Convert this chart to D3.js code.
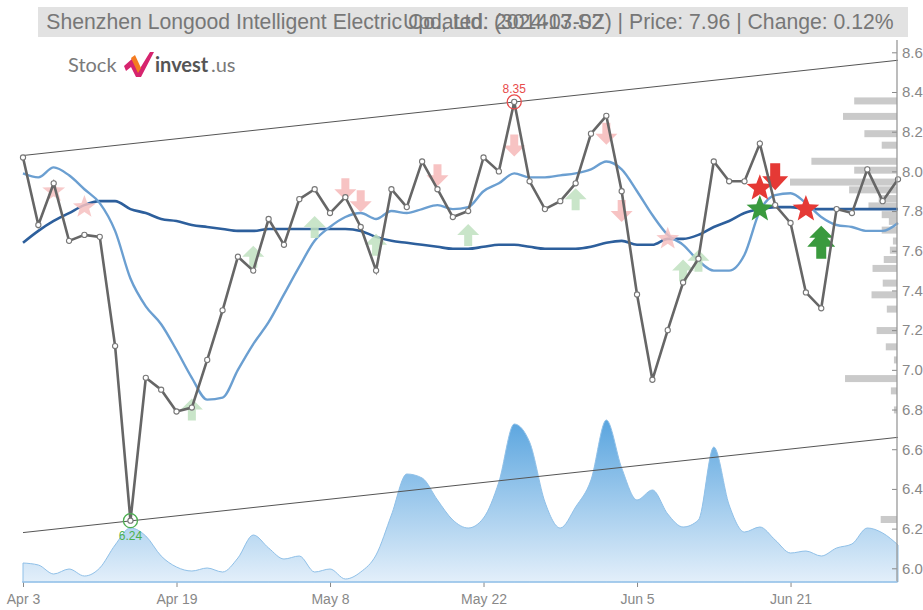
<!DOCTYPE html>
<html>
<head>
<meta charset="utf-8">
<script src="https://cdn.jsdelivr.net/npm/d3@7"></script>
<style>
body { margin: 0; background: #fff; }
svg { display: block; font-family: "Liberation Sans", Arial, sans-serif; }
</style>
</head>
<body>
<div id="chart"></div>
<script>
// daily closes, one per trading day
var prices = [8.07,7.73,7.94,7.65,7.68,7.67,7.12,6.24,6.96,6.90,6.79,6.81,7.05,7.30,7.57,7.50,7.76,7.63,7.86,7.91,
              7.79,7.87,7.72,7.50,7.91,7.82,8.05,7.91,7.77,7.80,8.07,8.00,8.35,7.95,7.81,7.85,7.94,8.19,8.28,7.90,
              7.38,6.95,7.20,7.44,7.56,8.05,7.95,7.95,8.14,7.83,7.74,7.39,7.31,7.81,7.79,8.01,7.85,7.96];
var maShort = [7.99,7.97,8.02,7.98,7.91,7.84,7.70,7.46,7.32,7.23,7.10,6.96,6.85,6.86,7.00,7.13,7.24,7.38,7.52,7.65,
               7.72,7.77,7.79,7.76,7.80,7.79,7.81,7.83,7.81,7.82,7.90,7.94,7.99,7.97,7.97,7.98,7.99,8.01,8.05,8.01,
               7.90,7.78,7.68,7.63,7.55,7.50,7.50,7.58,7.80,7.88,7.89,7.84,7.77,7.73,7.72,7.70,7.70,7.74];
var maLong = [7.64,7.70,7.75,7.79,7.83,7.85,7.85,7.81,7.79,7.76,7.75,7.73,7.72,7.71,7.70,7.70,7.71,7.71,7.71,7.71,
              7.71,7.71,7.70,7.67,7.65,7.64,7.63,7.62,7.61,7.61,7.62,7.63,7.63,7.62,7.61,7.61,7.61,7.62,7.64,7.65,
              7.63,7.63,7.66,7.66,7.68,7.72,7.75,7.79,7.81,7.82,7.82,7.81,7.81,7.81,7.81,7.81,7.81,7.81];
var volumes = [19,17,8,13,6,14,37,54,46,26,15,11,14,10,24,47,34,23,26,10,
               13,3,10,27,67,108,104,82,62,54,64,100,158,140,80,54,75,102,162,114,
               82,92,68,55,62,135,77,50,55,42,29,31,26,34,38,54,49,37];
var dateLabels = ["Apr 3","Apr 19","May 8","May 22","Jun 5","Jun 21"];
var dateIdx = [0,10,20,30,40,50];
var priceTicks = [6.0,6.2,6.4,6.6,6.8,7.0,7.2,7.4,7.6,7.8,8.0,8.2,8.4,8.6];

// trend channel, value at first and last index
var channelUpper = [8.08, 8.56];
var channelLower = [6.18, 6.66];

// volume profile by price level
var profilePrice = [8.355,8.277,8.190,8.132,8.051,8.006,7.946,7.907,7.863,7.826,7.782,7.748,7.704,7.649,
                    7.603,7.556,7.511,7.437,7.378,7.306,7.198,7.116,7.050,6.956,6.894,6.798,6.246];
var profileVol = [42,53,32,15,84,42,105,47,18,28,15,8,15,4,7,13,24,14,25,10,20,11,3,51,6,3,16];

// signals: index, price level, kind, strong
var sigIdx   = [2,4,11,15,19,21,22,23,27,29,32,36,38,39,42,43,44,48,49,48,51,52];
var sigPrice = [7.90,7.82,6.80,7.57,7.72,7.91,7.85,7.63,7.98,7.68,8.13,7.86,8.19,7.80,7.66,7.50,7.55,7.915,7.975,7.81,7.81,7.64];
var sigKind  = ["starR","starR","up","up","up","down","down","up","down","up","down","up","down","down","starR","up","up",
                "starR","down","starG","starR","up"];
var sigStrong = [0,0,0,0,0,0,0,0,0,0,0,0,0,0,0,0,0,1,1,1,1,1];

var W = 923, H = 610;
var svg = d3.select("#chart").append("svg").attr("width", W).attr("height", H);

var x = d3.scaleLinear().domain([0, prices.length - 1]).range([23, 898]);
var y = d3.scaleLinear().domain([5.931, 8.662]).range([582, 40]);
var yv = d3.scaleLinear().domain([0, 162]).range([582, 420]);
var xp = d3.scaleLinear().domain([0, 105]).range([0, 107]);

// volume area
var defs = svg.append("defs");
var grad = defs.append("linearGradient").attr("id", "vg").attr("x1", 0).attr("y1", 0).attr("x2", 0).attr("y2", 1);
grad.append("stop").attr("offset", "0%").attr("stop-color", "#5aa5df");
grad.append("stop").attr("offset", "100%").attr("stop-color", "#e3effa");

var area = d3.area()
    .x(function (d, i) { return x(i); })
    .y0(582)
    .y1(function (d) { return yv(d); })
    .curve(d3.curveMonotoneX);
svg.append("path").datum(volumes).attr("d", area)
    .attr("fill", "url(#vg)").attr("stroke", "#8fc0e8").attr("stroke-width", 1);

// volume profile bars
svg.append("g").selectAll("rect").data(profilePrice).enter().append("rect")
    .attr("x", function (d, i) { return 897 - xp(profileVol[i]); })
    .attr("y", function (d) { return y(d) - 3.5; })
    .attr("width", function (d, i) { return xp(profileVol[i]); })
    .attr("height", 7)
    .attr("fill", "#c4c4c4")
    .attr("opacity", 0.9);

// channel
[channelUpper, channelLower].forEach(function (c) {
    svg.append("line")
        .attr("x1", x(0)).attr("y1", y(c[0]))
        .attr("x2", x(prices.length - 1)).attr("y2", y(c[1]))
        .attr("stroke", "#555").attr("stroke-width", 1);
});

// moving averages
var line = d3.line()
    .x(function (d, i) { return x(i); })
    .y(function (d) { return y(d); })
    .curve(d3.curveMonotoneX);
svg.append("path").datum(maLong).attr("d", line)
    .attr("fill", "none").attr("stroke", "#2d5f9c").attr("stroke-width", 2.6);
svg.append("path").datum(maShort).attr("d", line)
    .attr("fill", "none").attr("stroke", "#6b9fd1").attr("stroke-width", 2.4);

// signal shapes
function starPath(ro, ri) {
    var p = [];
    for (var k = 0; k < 10; k++) {
        var a = -Math.PI / 2 + k * Math.PI / 5;
        var r = k % 2 == 0 ? ro : ri;
        p.push([r * Math.cos(a), r * Math.sin(a)]);
    }
    return "M" + p.join("L") + "Z";
}
var arrowUp = "M0,-11L11,0L4,0L4,11L-4,11L-4,0L-11,0Z";
var arrowUpStrong = "M0,-17L12,-5L6,-5L14,4L5,4L5,16L-5,16L-5,4L-14,4L-6,-5L-12,-5Z";
var arrowDown = "M0,11L11,0L4,0L4,-11L-4,-11L-4,0L-11,0Z";
var arrowDownStrong = "M0,14L13,0L5,0L5,-13L-5,-13L-5,0L-13,0Z";

var sg = svg.append("g");
sigIdx.forEach(function (d, i) {
    var k = sigKind[i], s = sigStrong[i];
    var path, col;
    if (k == "up") {
        path = s ? arrowUpStrong : arrowUp;
        col = s ? "#3a9a3e" : "#bfe0bf";
    } else if (k == "down") {
        path = s ? arrowDownStrong : arrowDown;
        col = s ? "#e53935" : "#f6b8b8";
    } else if (k == "starG") {
        path = starPath(14, 6);
        col = "#3a9a3e";
    } else {
        path = s ? starPath(14, 6) : starPath(12, 5);
        col = s ? "#e53935" : "#f6c0c0";
    }
    sg.append("path").attr("d", path)
        .attr("transform", "translate(" + x(d) + "," + y(sigPrice[i]) + ")")
        .attr("fill", col)
        .attr("opacity", s ? 1 : 0.85);
});

// price line
svg.append("path").datum(prices).attr("d", d3.line()
        .x(function (d, i) { return x(i); })
        .y(function (d) { return y(d); }))
    .attr("fill", "none").attr("stroke", "#666").attr("stroke-width", 2.6);
svg.append("g").selectAll("circle").data(prices).enter().append("circle")
    .attr("cx", function (d, i) { return x(i); })
    .attr("cy", function (d) { return y(d); })
    .attr("r", 2.6)
    .attr("fill", "#fff").attr("stroke", "#777").attr("stroke-width", 1.1);

// high / low marks
var hi = d3.maxIndex(prices), lo = d3.minIndex(prices);
svg.append("circle").attr("cx", x(hi)).attr("cy", y(prices[hi])).attr("r", 7)
    .attr("fill", "none").attr("stroke", "#e84c4c").attr("stroke-width", 1.3);
svg.append("text").attr("x", x(hi)).attr("y", y(prices[hi]) - 9).attr("text-anchor", "middle")
    .attr("font-size", 12).attr("fill", "#e84c4c").text(prices[hi].toFixed(2));
svg.append("circle").attr("cx", x(lo)).attr("cy", y(prices[lo])).attr("r", 7)
    .attr("fill", "none").attr("stroke", "#4caf50").attr("stroke-width", 1.3);
svg.append("text").attr("x", x(lo)).attr("y", y(prices[lo]) + 19).attr("text-anchor", "middle")
    .attr("font-size", 12).attr("fill", "#4caf50").text(prices[lo].toFixed(2));

// right axis
var yAxis = d3.axisRight(y).tickValues(priceTicks).tickSize(5).tickFormat(d3.format(".1f"));
var ya = svg.append("g").attr("transform", "translate(897,0)").call(yAxis);
ya.select(".domain").remove();
ya.selectAll(".tick line").attr("x1", -5).attr("x2", 0).attr("stroke", "#888");
ya.selectAll(".tick text").attr("x", 5).attr("font-size", 15).attr("fill", "#888")
    .attr("font-family", "Liberation Sans, Arial, sans-serif");
svg.append("line").attr("x1", 897).attr("x2", 897).attr("y1", 40).attr("y2", 582)
    .attr("stroke", "#999").attr("stroke-width", 1.3);

// bottom axis
var xAxis = d3.axisBottom(x).tickValues(dateIdx).tickSize(5)
    .tickFormat(function (d, i) { return dateLabels[i]; });
var xa = svg.append("g").attr("transform", "translate(0,582)").call(xAxis);
xa.select(".domain").remove();
xa.selectAll(".tick line").attr("stroke", "#888");
xa.selectAll(".tick text").attr("font-size", 14).attr("fill", "#888").attr("dy", "1em")
    .attr("font-family", "Liberation Sans, Arial, sans-serif");
svg.append("line").attr("x1", 22).attr("x2", 897).attr("y1", 582).attr("y2", 582)
    .attr("stroke", "#9cc6ea").attr("stroke-width", 1.5);

// title bar
svg.append("rect").attr("x", 38).attr("y", 7).attr("width", 870).attr("height", 30).attr("fill", "#e2e2e2");
svg.append("text").attr("x", 470).attr("y", 29).attr("text-anchor", "middle")
    .attr("font-size", 21.2).attr("fill", "#777")
    .text("Shenzhen Longood Intelligent Electric Co., Ltd. (301413.SZ) | Price: 7.96 | Change: 0.12%");
svg.append("text").attr("x", 403).attr("y", 29)
    .attr("font-size", 21.2).attr("fill", "#777")
    .text("Updated: 2024-07-02");

// logo
var logo = svg.append("g");
logo.append("text").attr("x", 68).attr("y", 72).attr("font-size", 20).attr("fill", "#7a7a7a")
    .attr("font-family", "Lato, sans-serif").text("Stock");
logo.append("path").attr("d", "M124,66 L133,58 L139,70 L150,52 L154,52 L141,77 L136,77 L131,67 L126,71 Z")
    .attr("fill", "#d6246e");
logo.append("path").attr("d", "M131,58 L135,55 L141,68 L138,73 Z").attr("fill", "#f47c20");
logo.append("text").attr("x", 155).attr("y", 72).attr("font-size", 20).attr("font-weight", "bold")
    .attr("fill", "#555").attr("font-family", "Lato, sans-serif").text("invest");
logo.append("text").attr("x", 211).attr("y", 72).attr("font-size", 20).attr("fill", "#7a7a7a")
    .attr("font-family", "Lato, sans-serif").text(".us");
</script>
</body>
</html>
